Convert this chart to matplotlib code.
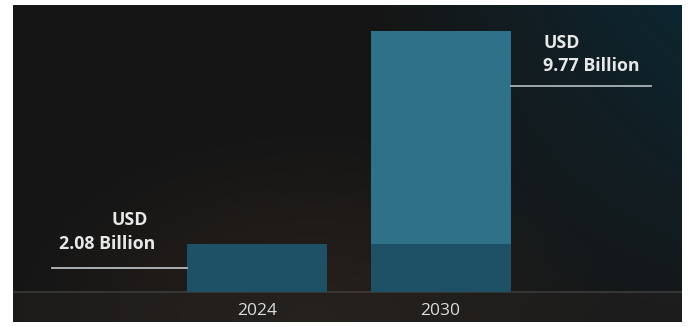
import numpy as np
import matplotlib
matplotlib.use('Agg')
import matplotlib.pyplot as plt

# Market size, USD billion
years = ['2024', '2030']
values = [2.08, 9.77]
labels = ['USD\n2.08 Billion', 'USD\n9.77 Billion']

bar_dark = '#1f5166'
bar_light = '#30718a'
text_col = '#e8e8e8'

W, H = 689, 327
fig = plt.figure(figsize=(W / 100, H / 100), dpi=100, facecolor='white')

def px_rect(x0, y0, x1, y1):
    # pixel box (top-left origin) -> figure fraction rect
    return [x0 / W, 1 - y1 / H, (x1 - x0) / W, (y1 - y0) / H]

# Background panel: dark gradient, a bit teal top-right, brown near bottom
bg = fig.add_axes(px_rect(13, 5, 682, 322), zorder=-1)
ny, nx = 100, 200
yy, xx = np.mgrid[0:1:ny * 1j, 0:1:nx * 1j]
base = np.array([0.085, 0.085, 0.085])
teal = np.array([0.05, 0.15, 0.19])
brown = np.array([0.16, 0.13, 0.11])
w_teal = np.clip((xx - 0.55) / 0.45, 0, 1) * np.clip(1 - yy * 0.9, 0, 1)
w_brown = np.clip(1 - np.hypot((xx - 0.45) / 0.45, (yy - 1.0) / 0.6), 0, 1)
img = base + w_teal[..., None] * (teal - base) + w_brown[..., None] * (brown - base)
bg.imshow(img, extent=[0, 1, 0, 1], aspect='auto', interpolation='bilinear')
# axis band under the baseline
bg.axhspan(0, 30 / 317, color='#242220', alpha=0.5)
bg.axhline(30 / 317, color='#3a3a3a', lw=1.2)
bg.set_xlim(0, 1)
bg.set_ylim(0, 1)
bg.axis('off')

# Main axes: bottom at the baseline
ax = fig.add_axes(px_rect(13, 5, 682, 292))
ax.patch.set_alpha(0)
x = np.arange(len(years))
width = 0.763
ax.bar(x[0], values[0], width=width, color=bar_dark, zorder=2)
ax.bar(x[1], values[0], width=width, color=bar_dark, zorder=2)
ax.bar(x[1], values[1] - values[0], bottom=values[0], width=width,
       color=bar_light, zorder=2)
ax.set_xlim(-1.33, 2.316)
ax.set_ylim(0.35, 10.71)
for s in ax.spines.values():
    s.set_visible(False)
ax.set_yticks([])
ax.set_xticks([])

# leader lines
ax.plot([-1.117, x[0] - width / 2], [1.215, 1.215], color='#b8bcbe', lw=1.3)
ax.plot([x[1] + width / 2, 2.147], [7.79, 7.79], color='#a8b4b8', lw=1.3)

font = dict(family=['Open Sans', 'DejaVu Sans'], fontweight='bold',
            fontsize=12.8, color=text_col)
ax.text(-0.595, 2.95, labels[0].split('\n')[0], ha='right', va='center', **font)
ax.text(-0.555, 2.08, labels[0].split('\n')[1], ha='right', va='center', **font)
ax.text(1.56, 9.34, labels[1].split('\n')[0], ha='left', va='center', **font)
ax.text(1.56, 8.51, labels[1].split('\n')[1], ha='left', va='center', **font)

for xi, yr in zip(x, years):
    ax.text(xi, -0.35, yr, ha='center', va='center', fontsize=12.5,
            family=['Open Sans', 'DejaVu Sans'], color='#dcdcdc', clip_on=False)

fig.savefig('out.png', dpi=100, facecolor='white')
